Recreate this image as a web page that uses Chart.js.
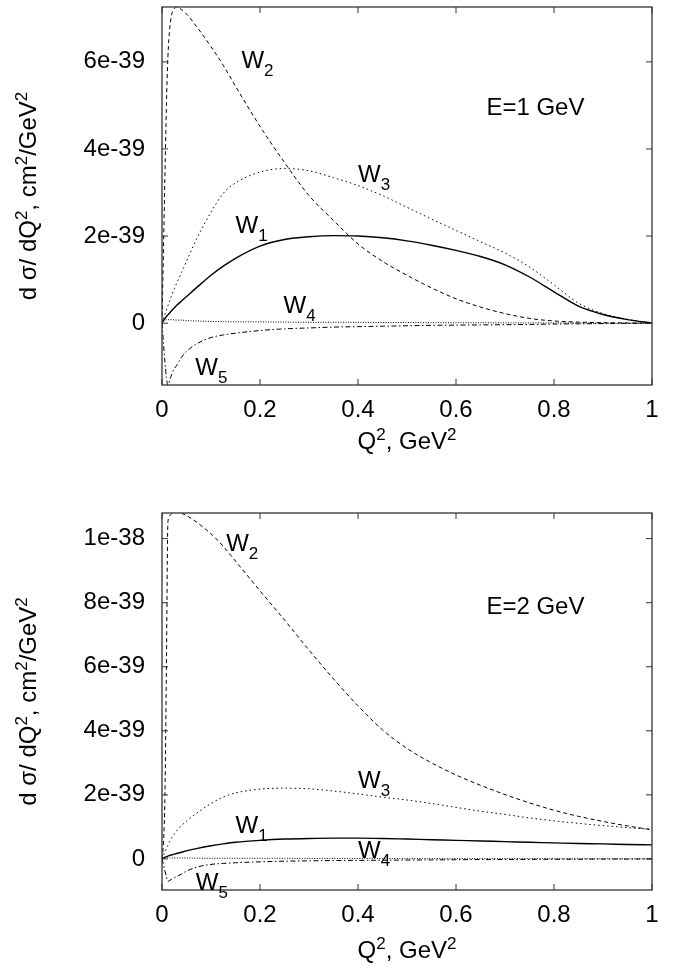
<!DOCTYPE html>
<html>
<head>
<meta charset="utf-8">
<script src="https://cdn.jsdelivr.net/npm/chart.js@4.4.1/dist/chart.umd.min.js"></script>
<style>
  html, body { margin: 0; padding: 0; background: #fff; }
  body { width: 679px; height: 967px; position: relative; overflow: hidden; }
  canvas { position: absolute; left: 0; }
  #topChart { top: 0; }
  #bottomChart { top: 467px; }
</style>
</head>
<body>
<canvas id="topChart" width="679" height="467"></canvas>
<canvas id="bottomChart" width="679" height="500"></canvas>
<script>
// Q^2 grid (GeV^2), shared by every curve; dense near 0 where the curves are steep
const q2 = [0, 0.003, 0.006, 0.009, 0.012, 0.016, 0.02, 0.025, 0.03, 0.04, 0.05, 0.07,
  0.1, 0.125, 0.15, 0.2, 0.25, 0.3, 0.35, 0.4, 0.45, 0.5, 0.55, 0.6, 0.65, 0.7, 0.75,
  0.8, 0.85, 0.9, 0.95, 1.0];

// d sigma / dQ^2 in units of 1e-39 cm^2/GeV^2, E = 1 GeV
const w1E1 = [0, 0.06, 0.11, 0.15, 0.19, 0.24, 0.29, 0.35, 0.41, 0.51, 0.61, 0.81,
  1.10, 1.31, 1.49, 1.77, 1.92, 1.985, 2.01, 2.00, 1.96, 1.89, 1.79, 1.67, 1.53, 1.34, 1.06,
  0.72, 0.39, 0.20, 0.08, 0];
const w2E1 = [0, 1.7, 3.4, 5.0, 6.1, 6.8, 7.1, 7.22, 7.26, 7.2, 7.1, 6.82,
  6.35, 5.92, 5.44, 4.52, 3.69, 2.93, 2.36, 1.82, 1.42, 1.10, 0.81, 0.56, 0.37, 0.22, 0.11,
  0.05, 0.025, 0.01, 0.004, 0];
const w3E1 = [0, 0.1, 0.2, 0.3, 0.4, 0.52, 0.65, 0.79, 0.92, 1.17, 1.42, 1.92,
  2.55, 2.98, 3.22, 3.47, 3.55, 3.50, 3.34, 3.16, 2.93, 2.66, 2.39, 2.13, 1.87, 1.61, 1.29,
  0.88, 0.46, 0.22, 0.09, 0];
const w4E1 = [0, 0.05, 0.07, 0.08, 0.08, 0.08, 0.08, 0.075, 0.07, 0.07, 0.06, 0.05,
  0.04, 0.035, 0.03, 0.03, 0.025, 0.02, 0.02, 0.02, 0.015, 0.015, 0.01, 0.01, 0.01, 0.008, 0.006,
  0.005, 0.004, 0.002, 0.001, 0];
const w5E1 = [0, -0.45, -0.9, -1.25, -1.42, -1.30, -1.17, -1.05, -0.97, -0.78, -0.65, -0.48,
  -0.33, -0.27, -0.23, -0.17, -0.13, -0.11, -0.09, -0.08, -0.07, -0.06, -0.05, -0.045, -0.04, -0.035, -0.03,
  -0.02, -0.015, -0.01, -0.005, 0];

// same, E = 2 GeV
const w1E2 = [0, 0.03, 0.05, 0.07, 0.09, 0.11, 0.13, 0.15, 0.17, 0.21, 0.25, 0.32,
  0.41, 0.47, 0.52, 0.58, 0.62, 0.64, 0.65, 0.65, 0.64, 0.62, 0.60, 0.58, 0.56, 0.54, 0.52,
  0.50, 0.48, 0.47, 0.45, 0.44];
const w2E2 = [0, 0.5, 2.0, 6.0, 10.5, 10.72, 10.78, 10.82, 10.83, 10.79, 10.72, 10.52,
  10.15, 9.76, 9.30, 8.37, 7.46, 6.52, 5.62, 4.78, 4.03, 3.45, 3.00, 2.62, 2.30, 2.01, 1.75,
  1.52, 1.33, 1.17, 1.03, 0.91];
const w3E2 = [0, 0.12, 0.22, 0.32, 0.42, 0.55, 0.66, 0.78, 0.88, 1.05, 1.18, 1.42,
  1.73, 1.93, 2.06, 2.18, 2.21, 2.19, 2.12, 2.03, 1.93, 1.84, 1.73, 1.61, 1.49, 1.39, 1.28,
  1.19, 1.11, 1.04, 0.98, 0.92];
const w4E2 = [0, 0.02, 0.03, 0.03, 0.03, 0.03, 0.03, 0.03, 0.03, 0.03, 0.03, 0.025,
  0.02, 0.02, 0.02, 0.02, 0.02, 0.015, 0.015, 0.015, 0.015, 0.01, 0.01, 0.01, 0.01, 0.01, 0.01,
  0.008, 0.008, 0.006, 0.006, 0.005];
const w5E2 = [0, -0.18, -0.38, -0.55, -0.70, -0.67, -0.63, -0.59, -0.55, -0.47, -0.38, -0.26,
  -0.17, -0.14, -0.12, -0.09, -0.07, -0.06, -0.05, -0.045, -0.04, -0.035, -0.03, -0.025, -0.02, -0.02, -0.015,
  -0.01, -0.01, -0.005, -0.005, 0];

// axes
const xTicks = [0, 0.2, 0.4, 0.6, 0.8, 1];
const xTickLabels = ['0', '0.2', '0.4', '0.6', '0.8', '1'];
const yTicksE1 = [0, 2, 4, 6];
const yTickLabelsE1 = ['0', '2e-39', '4e-39', '6e-39'];
const yTicksE2 = [0, 2, 4, 6, 8, 10];
const yTickLabelsE2 = ['0', '2e-39', '4e-39', '6e-39', '8e-39', '1e-38'];

// titles ([text, 0 normal | 1 superscript | -1 subscript])
const yTitle = [['d σ/ dQ', 0], ['2', 1], [', cm', 0], ['2', 1], ['/GeV', 0], ['2', 1]];
const xTitle = [['Q', 0], ['2', 1], [', GeV', 0], ['2', 1]];

// in-plot labels, anchored in data coordinates (left edge, baseline)
const notesE1 = [
  { parts: [['W', 0], ['1', -1]], x: 0.15, y: 2.08 },
  { parts: [['W', 0], ['2', -1]], x: 0.162, y: 5.87 },
  { parts: [['W', 0], ['3', -1]], x: 0.40, y: 3.25 },
  { parts: [['W', 0], ['4', -1]], x: 0.248, y: 0.24 },
  { parts: [['W', 0], ['5', -1]], x: 0.068, y: -1.19 },
  { parts: [['E=1 GeV', 0]], x: 0.662, y: 4.77 }
];
const notesE2 = [
  { parts: [['W', 0], ['1', -1]], x: 0.15, y: 0.82 },
  { parts: [['W', 0], ['2', -1]], x: 0.131, y: 9.60 },
  { parts: [['W', 0], ['3', -1]], x: 0.40, y: 2.21 },
  { parts: [['W', 0], ['4', -1]], x: 0.40, y: 0.02 },
  { parts: [['W', 0], ['5', -1]], x: 0.069, y: -0.97 },
  { parts: [['E=2 GeV', 0]], x: 0.662, y: 7.66 }
];

const FONT = '"Liberation Sans", Arial, sans-serif';
const SIZE = 24;
const SMALL = 17;

function drawRich(ctx, parts, x, y, align) {
  const widths = parts.map(p => {
    ctx.font = `${p[1] === 0 ? SIZE : SMALL}px ${FONT}`;
    return ctx.measureText(p[0]).width;
  });
  const total = widths.reduce((a, b) => a + b, 0);
  let cx = align === 'center' ? x - total / 2 : x;
  ctx.textAlign = 'left';
  ctx.textBaseline = 'alphabetic';
  parts.forEach((p, i) => {
    ctx.font = `${p[1] === 0 ? SIZE : SMALL}px ${FONT}`;
    const dy = p[1] === 1 ? -9 : (p[1] === -1 ? 8 : 0);
    ctx.fillText(p[0], cx, y + dy);
    cx += widths[i];
  });
}

// gnuplot look: closed frame, inward mirrored ticks, titles and curve labels
const gnuFrame = {
  id: 'gnuFrame',
  afterDraw(chart, args, opts) {
    const { ctx, chartArea: a, scales: { x, y } } = chart;
    ctx.save();
    ctx.strokeStyle = '#333';
    ctx.lineWidth = 1.3;
    ctx.strokeRect(a.left, a.top, a.right - a.left, a.bottom - a.top);

    const len = 6;
    ctx.lineWidth = 1;
    ctx.beginPath();
    x.ticks.forEach(t => {
      const px = x.getPixelForValue(t.value);
      ctx.moveTo(px, a.bottom); ctx.lineTo(px, a.bottom - len);
      ctx.moveTo(px, a.top); ctx.lineTo(px, a.top + len);
    });
    y.ticks.forEach(t => {
      const py = y.getPixelForValue(t.value);
      ctx.moveTo(a.left, py); ctx.lineTo(a.left + len, py);
      ctx.moveTo(a.right, py); ctx.lineTo(a.right - len, py);
    });
    ctx.stroke();

    ctx.fillStyle = '#000';
    opts.notes.forEach(n => {
      drawRich(ctx, n.parts, x.getPixelForValue(n.x), y.getPixelForValue(n.y), 'left');
    });

    drawRich(ctx, xTitle, (a.left + a.right) / 2, a.bottom + opts.xTitleGap + 8, 'center');

    ctx.translate(28, (a.top + a.bottom) / 2);
    ctx.rotate(-Math.PI / 2);
    drawRich(ctx, yTitle, 0, 8, 'center');
    ctx.restore();
  }
};

function curve(values, dash, width) {
  return {
    data: q2.map((q, i) => ({ x: q, y: values[i] })),
    borderColor: '#000',
    borderWidth: width,
    borderDash: dash,
    pointRadius: 0,
    fill: false,
    cubicInterpolationMode: 'monotone'
  };
}

function makePanel(id, series, yTicks, yLabels, yMin, yMax, notes, padTop, xHeight, xTitleGap) {
  const tickFont = { family: FONT, size: SIZE };
  return new Chart(document.getElementById(id), {
    type: 'line',
    data: {
      datasets: [
        curve(series[0], [], 1.4),            // W1 solid
        curve(series[1], [4, 3], 1),          // W2 dashed
        curve(series[2], [1.5, 3], 1),        // W3 dotted
        curve(series[3], [1, 1.5], 1),        // W4 fine dots
        curve(series[4], [5, 2.5, 1.5, 2.5], 1) // W5 dash-dot
      ]
    },
    options: {
      responsive: false,
      animation: false,
      events: [],
      layout: { padding: { top: padTop, right: 27, left: 0, bottom: 0 } },
      plugins: {
        legend: { display: false },
        tooltip: { enabled: false },
        gnuFrame: { notes: notes, xTitleGap: xTitleGap }
      },
      scales: {
        x: {
          type: 'linear',
          min: 0,
          max: 1,
          grid: { display: false, drawTicks: false },
          border: { display: false },
          afterBuildTicks: s => { s.ticks = xTicks.map(v => ({ value: v })); },
          afterFit: s => { s.height = xHeight; s.paddingLeft = 0; s.paddingRight = 0; },
          ticks: {
            callback: (v, i) => xTickLabels[i],
            font: tickFont,
            color: '#000',
            padding: 11,
            maxRotation: 0,
            autoSkip: false
          }
        },
        y: {
          type: 'linear',
          min: yMin,
          max: yMax,
          grid: { display: false, drawTicks: false },
          border: { display: false },
          afterBuildTicks: s => { s.ticks = yTicks.map(v => ({ value: v })); },
          afterFit: s => { s.width = 162; s.paddingTop = 0; s.paddingBottom = 0; },
          ticks: {
            callback: (v, i) => yLabels[i],
            font: tickFont,
            color: '#000',
            padding: 17,
            autoSkip: false
          }
        }
      }
    },
    plugins: [gnuFrame]
  });
}

makePanel('topChart', [w1E1, w2E1, w3E1, w4E1, w5E1], yTicksE1, yTickLabelsE1,
  -1.42, 7.26, notesE1, 7, 82, 56);
makePanel('bottomChart', [w1E2, w2E2, w3E2, w4E2, w5E2], yTicksE2, yTickLabelsE2,
  -0.97, 10.8, notesE2, 46, 77, 60);
</script>
</body>
</html>
